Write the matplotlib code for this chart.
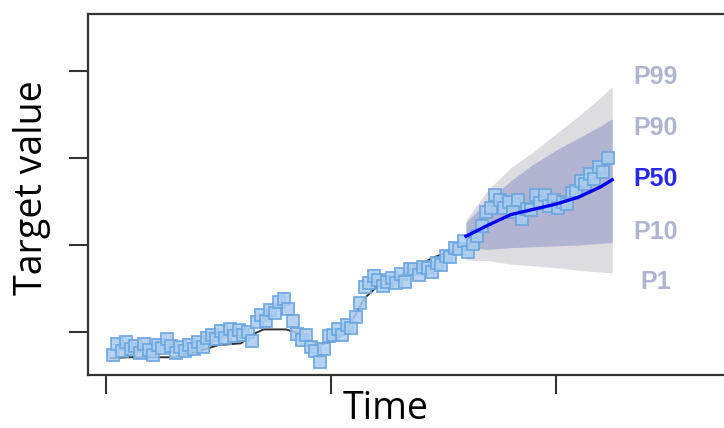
import matplotlib
matplotlib.use("Agg")
import matplotlib.pyplot as plt

# ---------------- data ----------------
obs_t = list(range(3, 224, 2))
obs_v = [0.74, 0.86, 0.78, 0.88, 0.80, 0.84, 0.76, 0.86, 0.79, 0.74,
         0.85, 0.82, 0.92, 0.84, 0.76, 0.83, 0.78, 0.85, 0.80, 0.88,
         0.83, 0.93,
         0.97, 0.92, 1.01, 0.93, 1.03, 0.95, 1.02, 0.96, 1.00, 0.90,
         1.11, 1.19, 1.13, 1.25, 1.22, 1.35, 1.38, 1.27,
         1.13, 0.98, 0.91, 0.96, 0.83, 0.78, 0.66,
         0.80, 0.95, 0.97, 1.03, 0.96, 1.08, 1.05, 1.17,
         1.33, 1.52, 1.56, 1.64, 1.60, 1.53, 1.57, 1.62, 1.56, 1.67, 1.58,
         1.72, 1.73, 1.66, 1.75, 1.74, 1.69, 1.79, 1.77, 1.87, 1.86, 1.96,
         1.95, 2.05,
         1.92, 2.01, 2.10, 2.22, 2.38, 2.42, 2.58, 2.52,
         2.42, 2.50, 2.38, 2.52, 2.30, 2.41, 2.40, 2.58, 2.48, 2.57, 2.45,
         2.52, 2.42, 2.49, 2.47, 2.60,
         2.62, 2.73, 2.70, 2.82, 2.76, 2.90, 2.84, 3.00]

fit_t = [2, 10, 20, 30, 40, 50, 60, 65, 70, 75, 80, 85, 90, 95, 100,
         105, 110, 115, 120, 125, 130, 135, 140, 145, 150, 155, 160]
fit_v = [0.70, 0.71, 0.71, 0.71, 0.77, 0.85, 0.87, 0.97, 1.03, 1.03,
         1.03, 0.99, 0.91, 0.85, 0.89, 0.97, 1.16, 1.39, 1.51, 1.58,
         1.64, 1.71, 1.78, 1.85, 1.90, 1.94, 2.00]

fc_t = [160, 170, 180, 190, 200, 210, 220, 225]
p99 = [2.29, 2.64, 2.89, 3.07, 3.28, 3.48, 3.70, 3.82]
p90 = [2.26, 2.52, 2.74, 2.93, 3.09, 3.23, 3.37, 3.45]
p50 = [2.10, 2.23, 2.35, 2.41, 2.47, 2.55, 2.67, 2.75]
p10 = [1.97, 1.95, 1.97, 1.98, 1.99, 2.00, 2.02, 2.03]
p01 = [1.83, 1.82, 1.78, 1.76, 1.74, 1.71, 1.69, 1.68]

labels = ["P99", "P90", "P50", "P10", "P1"]
x_ticks = [0, 100, 200]
y_ticks = [1, 2, 3, 4]

# ---------------- figure ----------------
W, H = 724, 428
fig = plt.figure(figsize=(W / 100, H / 100), dpi=100)
ax = fig.add_axes([88 / W, 1 - 375 / H, 1 - 88 / W, (375 - 14) / H])
ax.set_xlim(-8, 274.7)
ax.set_ylim(0.506, 4.655)

band_light = "#dcdce1"
band_dark = "#b2b5d1"
ax.fill_between(fc_t, p01, p99, color=band_light, lw=0, zorder=1)
ax.fill_between(fc_t, p10, p90, color=band_dark, lw=0, zorder=2)

ax.plot(fit_t, fit_v, color="#333333", lw=1.4, zorder=3)
ax.plot(obs_t, obs_v, ls="none", marker="s", ms=8, mfc="#a9ccef",
        mec="#6aa5de", mew=1.4, alpha=0.85, zorder=4)
ax.plot(fc_t, p50, color="#0000ee", lw=2.4, zorder=5)

label_y = [3.93, 3.35, 2.76, 2.155, 1.57]
for lab, yy in zip(labels, label_y):
    col = "#2828e6" if lab == "P50" else "#b0b4ce"
    ax.text(244.4, yy, lab, color=col, fontsize=18, fontweight="bold",
            family="Liberation Sans", ha="center", va="center", zorder=6)

ax.set_xticks(x_ticks)
ax.set_yticks(y_ticks)
ax.set_xticklabels([])
ax.set_yticklabels([])
ax.tick_params(direction="out", length=13.5, width=1.5, colors="#333333")
for s in ["left", "top", "bottom"]:
    ax.spines[s].set_linewidth(1.6)
    ax.spines[s].set_color("#333333")
ax.spines["right"].set_visible(False)

fig.text(32 / W, 1 - 187.5 / H, "Target value", rotation=90, ha="center",
         va="center", fontsize=27, family="Open Sans", color="black")
fig.text(386 / W, 0.0, "Time", ha="center", va="bottom", fontsize=27,
         family="Open Sans", color="black")

fig.savefig("out.png", dpi=100)
